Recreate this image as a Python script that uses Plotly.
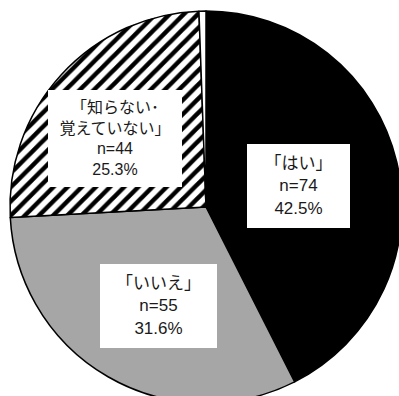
import plotly.graph_objects as go

# Data
labels = ["「はい」", "「いいえ」", "「知らない・覚えていない」", "無回答"]
counts = [74, 55, 44, 1]
percents = ["42.5%", "31.6%", "25.3%", "0.6%"]
box_texts = [
    "「はい」<br>n=74<br>42.5%",
    "「いいえ」<br>n=55<br>31.6%",
    "「知らない･<br>覚えていない」<br>n=44<br>25.3%",
]

colors = ["#000000", "#A6A6A6", "#FFFFFF", "#FFFFFF"]
shapes = ["", "", "/", ""]

W, H = 402, 403
ML, MT = 10, 11
PW, PH = W - ML, H - MT

def px2paper(x, y):
    return (x - ML) / PW, 1 - (y - MT) / PH

fig = go.Figure(go.Pie(
    labels=labels,
    values=counts,
    sort=False,
    direction="clockwise",
    rotation=0,
    textinfo="none",
    hoverinfo="label+value",
    marker=dict(
        colors=colors,
        line=dict(color="#000000", width=1.5),
        pattern=dict(shape=shapes, fgcolor="#000000", size=10, solidity=0.45),
    ),
    showlegend=False,
))

# label boxes: (center x px, center y px, width, height, font size)
boxes = [
    (298, 186, 103, 84, 17),
    (158, 306, 117, 84, 17),
    (115.5, 139, 134, 97, 16),
]
for (cx, cy, bw, bh, fs), txt in zip(boxes, box_texts):
    x, y = px2paper(cx, cy)
    fig.add_annotation(
        x=x, y=y, xref="paper", yref="paper",
        text=txt, showarrow=False,
        xanchor="center", yanchor="middle",
        width=bw, height=bh, borderpad=0, borderwidth=0,
        bgcolor="#FFFFFF", align="center", valign="middle",
        font=dict(size=fs, color="#1a1a1a",
                  family="Liberation Sans, Noto Sans CJK JP, sans-serif"),
    )

fig.update_layout(
    width=W, height=H,
    margin=dict(l=ML, r=0, t=MT, b=0, pad=0),
    paper_bgcolor="#FFFFFF",
    plot_bgcolor="#FFFFFF",
)

fig.write_html(
    "out.html",
    post_script="document.body.style.margin='0';document.body.style.overflow='hidden';document.documentElement.style.overflow='hidden';",
)
